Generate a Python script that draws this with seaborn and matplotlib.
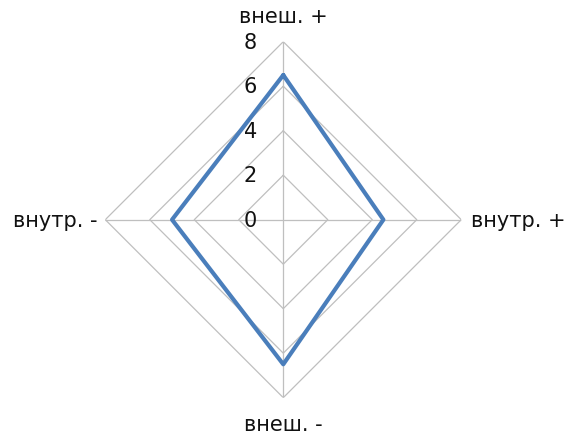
import numpy as np
import seaborn as sns
import matplotlib.pyplot as plt

# categories clockwise from the top
categories = ["внеш. +", "внутр. +", "внеш. -", "внутр. -"]
values = [6.5, 4.5, 6.5, 5.0]
levels = [0, 2, 4, 6, 8]

sns.set_theme(style="white")
plt.rcParams["font.family"] = ["DejaVu Sans"]

angles = np.linspace(0, 2 * np.pi, len(categories), endpoint=False)
closed_angles = np.append(angles, angles[0] + 2 * np.pi)
closed_values = values + values[:1]

fig = plt.figure(figsize=(5.76, 4.39), dpi=100)
ax = fig.add_axes([0.1828, 0.0918, 0.618, 0.811], projection="polar")
ax.set_theta_offset(np.pi / 2)
ax.set_theta_direction(-1)
ax.set_ylim(0, 8)
ax.set_xticks([])
ax.set_yticks([])
ax.grid(False)
ax.spines["polar"].set_visible(False)
ax.patch.set_alpha(0)

grid_col = "#bfbfbf"
# polygon gridlines
for lv in levels[1:]:
    ax.plot(closed_angles, [lv] * len(closed_angles), color=grid_col, lw=0.9, zorder=1)
# spokes
for a in angles:
    ax.plot([a, a], [0, 8], color=grid_col, lw=0.9, zorder=1)

# data line
sns.lineplot(x=closed_angles, y=closed_values, sort=False, estimator=None, ax=ax,
             color="#4a7ebb", linewidth=3.0, zorder=3)

# radial value labels along the top spoke
for lv in levels:
    ax.annotate(str(lv), xy=(0, lv), xytext=(-33, 0), textcoords="offset pixels",
                ha="center", va="center", fontsize=15, color="#111111", zorder=4)

# category labels
offsets = [(0, 26, "center"), (10, 0, "left"), (0, -26, "center"), (-8, 0, "right")]
for a, lab, (dx, dy, ha) in zip(angles, categories, offsets):
    ax.annotate(lab, xy=(a, 8), xytext=(dx, dy), textcoords="offset pixels",
                ha=ha, va="center", fontsize=15, color="#111111")

plt.savefig("out.png", dpi=100)
